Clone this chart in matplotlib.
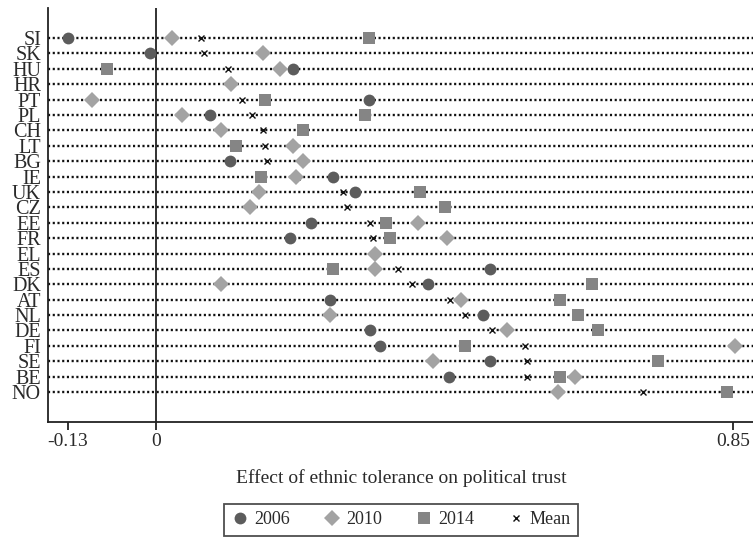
import numpy as np
import matplotlib
matplotlib.use("Agg")
import matplotlib.pyplot as plt

plt.rcParams['font.family'] = ['Liberation Serif', 'DejaVu Serif']

# data (nan = no estimate that year)
countries = ["SI", "SK", "HU", "HR", "PT", "PL", "CH", "LT", "BG", "IE", "UK", "CZ",
             "EE", "FR", "EL", "ES", "DK", "AT", "NL", "DE", "FI", "SE", "BE", "NO"]
nan = np.nan
y2006 = [-0.130, -0.009, 0.202, nan, 0.313, 0.079, nan, nan, 0.109, 0.260, 0.293, nan,
         0.228, 0.197, nan, 0.492, 0.401, 0.256, 0.482, 0.315, 0.330, 0.492, 0.431, nan]
y2010 = [0.023, 0.157, 0.182, 0.110, -0.094, 0.038, 0.096, 0.202, 0.216, 0.206, 0.152, 0.138,
         0.386, 0.428, 0.322, 0.322, 0.096, 0.449, 0.256, 0.517, 0.853, 0.408, 0.617, 0.592]
y2014 = [0.313, nan, -0.072, nan, 0.161, 0.308, 0.217, 0.117, nan, 0.154, 0.389, 0.425,
         0.339, 0.344, nan, 0.261, 0.642, 0.595, 0.622, 0.651, 0.455, 0.740, 0.595, 0.841]
means = [0.066, 0.070, 0.106, 0.110, 0.126, 0.141, 0.158, 0.161, 0.163, 0.207, 0.276, 0.281,
         0.315, 0.319, 0.322, 0.356, 0.377, 0.433, 0.455, 0.495, 0.544, 0.546, 0.546, 0.717]
xticks = [-0.13, 0, 0.85]
xticklabels = ["-0.13", "0", "0.85"]

fig = plt.figure(figsize=(7.53, 5.40), dpi=100)
ax = fig.add_axes([0.0637, 0.2185, 0.9363, 0.7665])

ypos = np.arange(len(countries))
xmin, xmax = -0.1595, 0.8795

# dotted guide lines
for y in ypos:
    ax.plot([xmin, xmax], [y, y], color="#111111", lw=1.7,
            linestyle=(0, (0.9, 1.1)), zorder=1)
ax.axvline(0, color="#222222", lw=1.3, zorder=1.5)

ax.plot(means, ypos, "x", color="#111111", ms=5, mew=1.0, zorder=2, label="Mean")
ax.plot(y2010, ypos, "D", color="#a3a3a3", ms=7.8, mew=0, zorder=3, label="2010")
ax.plot(y2014, ypos, "s", color="#858585", ms=8.6, mew=0, zorder=4, label="2014")
ax.plot(y2006, ypos, "o", color="#5c5c5c", ms=8.5, mew=0, zorder=5, label="2006")

ax.set_xlim(xmin, xmax)
ax.set_ylim(len(countries) - 1 + 1.95, -1.95)
ax.set_yticks(ypos)
ax.set_yticklabels(countries, fontsize=14.5, color="#2a2a2a")
ax.tick_params(axis="y", length=0, pad=5)
ax.set_xticks(xticks)
ax.set_xticklabels(xticklabels, fontsize=14, color="#2a2a2a")
ax.tick_params(axis="x", length=6, width=1.3, color="#222222", pad=2)

for s in ["top", "right"]:
    ax.spines[s].set_visible(False)
for s in ["left", "bottom"]:
    ax.spines[s].set_linewidth(1.3)
    ax.spines[s].set_color("#222222")

fig.text(0.5325, 1 - 478 / 540, "Effect of ethnic tolerance on political trust",
         ha="center", va="center", fontsize=14, color="#2a2a2a")

handles, labels = ax.get_legend_handles_labels()
order = [3, 1, 2, 0]
leg = fig.legend([handles[i] for i in order], [labels[i] for i in order],
                 loc="center", bbox_to_anchor=(401 / 753, 1 - 520 / 540), ncol=4,
                 fontsize=13, frameon=True, fancybox=False, edgecolor="#222222",
                 handletextpad=0.3, columnspacing=1.8, handlelength=1.0,
                 borderpad=0.4)
leg.get_frame().set_linewidth(1.3)
for t in leg.get_texts():
    t.set_color("#2a2a2a")

fig.savefig("out.png", dpi=100)
